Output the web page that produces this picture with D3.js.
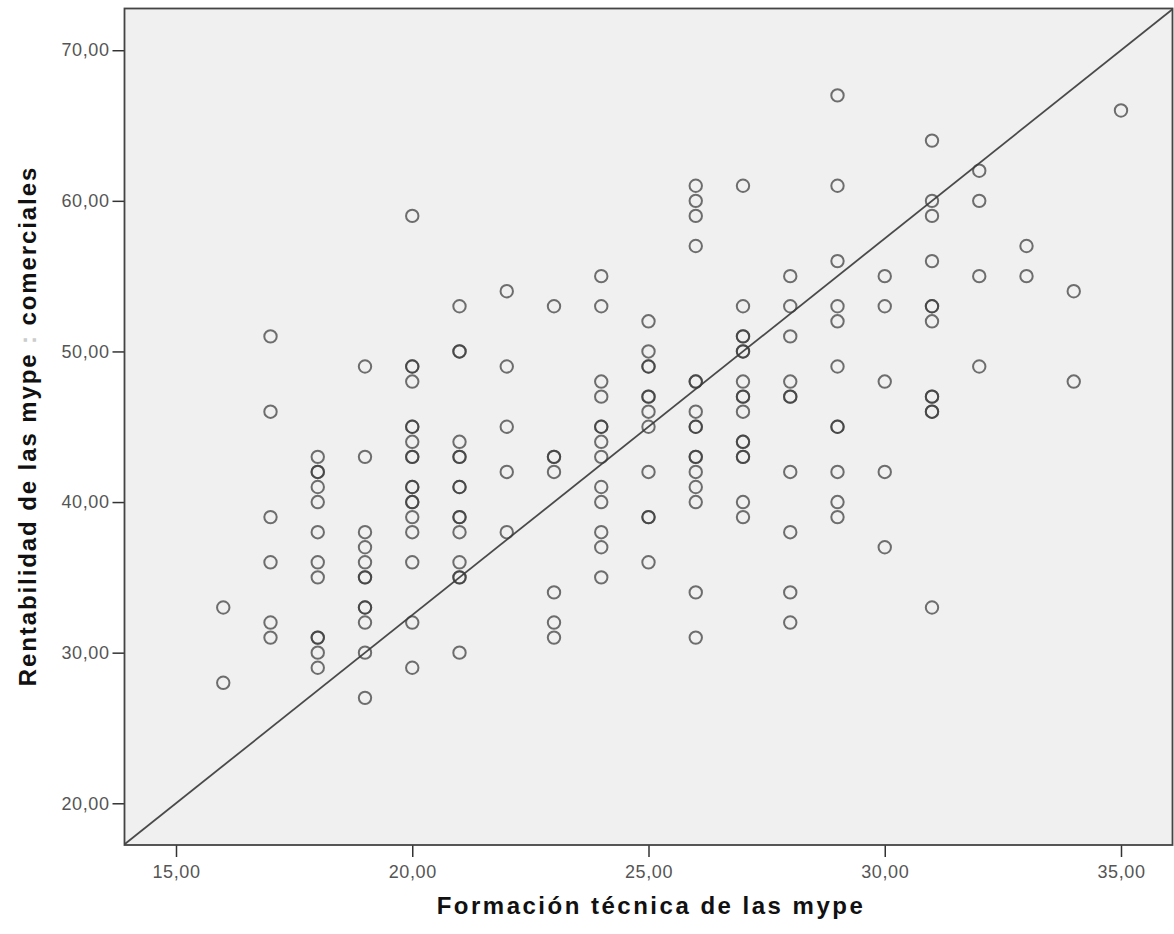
<!DOCTYPE html>
<html>
<head>
<meta charset="utf-8">
<script src="https://cdn.jsdelivr.net/npm/d3@7"></script>
<style>
  body { margin: 0; background: #fff; }
  svg { display: block; font-family: "Liberation Sans", Arial, sans-serif; }
  .tick text { fill: #555; font-size: 18px; letter-spacing: 0.6px; }
  .tick line { stroke: #333; stroke-width: 1.5; }
  .domain { display: none; }
</style>
</head>
<body>
<svg id="chart"></svg>
<script>
// values, one entry per point
var formacion = [
  16, 16,
  17, 17, 17, 17, 17, 17,
  18, 18, 18, 18, 18, 18, 18, 18, 18, 18, 18, 18,
  19, 19, 19, 19, 19, 19, 19, 19, 19, 19, 19, 19,
  20, 20, 20, 20, 20, 20, 20, 20, 20, 20, 20, 20, 20, 20, 20, 20, 20, 20,
  21, 21, 21, 21, 21, 21, 21, 21, 21, 21, 21, 21, 21, 21, 21,
  22, 22, 22, 22, 22,
  23, 23, 23, 23, 23, 23, 23,
  24, 24, 24, 24, 24, 24, 24, 24, 24, 24, 24, 24, 24,
  25, 25, 25, 25, 25, 25, 25, 25, 25, 25, 25, 25,
  26, 26, 26, 26, 26, 26, 26, 26, 26, 26, 26, 26, 26, 26, 26, 26,
  27, 27, 27, 27, 27, 27, 27, 27, 27, 27, 27, 27, 27, 27, 27, 27,
  28, 28, 28, 28, 28, 28, 28, 28, 28, 28,
  29, 29, 29, 29, 29, 29, 29, 29, 29, 29, 29,
  30, 30, 30, 30, 30,
  31, 31, 31, 31, 31, 31, 31, 31, 31, 31, 31, 31,
  32, 32, 32, 32,
  33, 33,
  34, 34,
  35
]
var rentabilidad = [
  33, 28,
  51, 46, 39, 36, 32, 31,
  43, 42, 42, 41, 40, 38, 36, 35, 31, 31, 30, 29,
  49, 43, 38, 37, 36, 35, 35, 33, 33, 32, 30, 27,
  59, 49, 49, 48, 45, 45, 44, 43, 43, 41, 41, 40, 40, 39, 38, 36, 32, 29,
  53, 50, 50, 44, 43, 43, 41, 41, 39, 39, 38, 36, 35, 35, 30,
  54, 49, 45, 42, 38,
  53, 43, 43, 42, 34, 32, 31,
  55, 53, 48, 47, 45, 45, 44, 43, 41, 40, 38, 37, 35,
  52, 50, 49, 49, 47, 47, 46, 45, 42, 39, 39, 36,
  61, 60, 59, 57, 48, 48, 46, 45, 45, 43, 43, 42, 41, 40, 34, 31,
  61, 53, 51, 51, 50, 50, 48, 47, 47, 46, 44, 44, 43, 43, 40, 39,
  55, 53, 51, 48, 47, 47, 42, 38, 34, 32,
  67, 61, 56, 53, 52, 49, 45, 45, 42, 40, 39,
  55, 53, 48, 42, 37,
  64, 60, 59, 56, 53, 53, 52, 47, 47, 46, 46, 33,
  62, 60, 55, 49,
  57, 55,
  54, 48,
  66
]
var xTicks = [15, 20, 25, 30, 35]
var yTicks = [20, 30, 40, 50, 60, 70]
// reference line: rentabilidad = intercept + slope * formacion
var lineIntercept = -17.5
var lineSlope = 2.5

var width = 1174, height = 934
var plotLeft = 124.5, plotRight = 1172.5, plotTop = 8.5, plotBottom = 845

var svg = d3.select("#chart").attr("width", width).attr("height", height)

var x = d3.scaleLinear().domain([13.91, 36.09]).range([plotLeft, plotRight])
var y = d3.scaleLinear().domain([17.23, 72.77]).range([plotBottom, plotTop])

var es = d3.formatLocale({ decimal: ",", thousands: ".", grouping: [3], currency: ["", ""] })
var fmt = es.format(".2f")

// plot background
svg.append("rect")
  .attr("x", plotLeft).attr("y", plotTop)
  .attr("width", plotRight - plotLeft).attr("height", plotBottom - plotTop)
  .attr("fill", "#f0f0f0")

svg.append("defs").append("clipPath").attr("id", "clip")
  .append("rect")
  .attr("x", plotLeft).attr("y", plotTop)
  .attr("width", plotRight - plotLeft).attr("height", plotBottom - plotTop)

// axes
svg.append("g")
  .attr("transform", "translate(0," + plotBottom + ")")
  .call(d3.axisBottom(x).tickValues(xTicks).tickFormat(fmt).tickSize(12).tickPadding(8))

svg.append("g")
  .attr("transform", "translate(" + plotLeft + ",0)")
  .call(d3.axisLeft(y).tickValues(yTicks).tickFormat(fmt).tickSize(12).tickPadding(3))

// fit line
var x0 = x.domain()[0], x1 = x.domain()[1]
svg.append("line")
  .attr("clip-path", "url(#clip)")
  .attr("x1", x(x0)).attr("y1", y(lineIntercept + lineSlope * x0))
  .attr("x2", x(x1)).attr("y2", y(lineIntercept + lineSlope * x1))
  .attr("stroke", "#4a4a4a")
  .attr("stroke-width", 1.8)

// points
var points = formacion.map(function (d, i) { return { x: d, y: rentabilidad[i] } })

svg.append("g")
  .selectAll("circle")
  .data(points)
  .enter()
  .append("circle")
  .attr("cx", function (d) { return x(d.x) })
  .attr("cy", function (d) { return y(d.y) })
  .attr("r", 6.2)
  .attr("fill", "none")
  .attr("stroke", "#3a3a3a")
  .attr("stroke-opacity", 0.72)
  .attr("stroke-width", 2)

// frame
svg.append("rect")
  .attr("x", plotLeft).attr("y", plotTop)
  .attr("width", plotRight - plotLeft).attr("height", plotBottom - plotTop)
  .attr("fill", "none")
  .attr("stroke", "#444")
  .attr("stroke-width", 1.8)

// axis titles
svg.append("text")
  .attr("x", 651).attr("y", 914)
  .attr("text-anchor", "middle")
  .style("font-size", "24px")
  .style("font-weight", "bold")
  .style("letter-spacing", "2.5px")
  .style("fill", "#111")
  .text("Formación técnica de las mype")

var yTitle = svg.append("text")
  .attr("transform", "translate(36,426) rotate(-90)")
  .attr("text-anchor", "middle")
  .style("font-size", "24px")
  .style("font-weight", "bold")
  .style("letter-spacing", "1.9px")
  .style("fill", "#111")
yTitle.append("tspan").text("Rentabilidad de las mype ")
yTitle.append("tspan").style("fill", "#ccc").text(":")
yTitle.append("tspan").text(" comerciales")
</script>
</body>
</html>
